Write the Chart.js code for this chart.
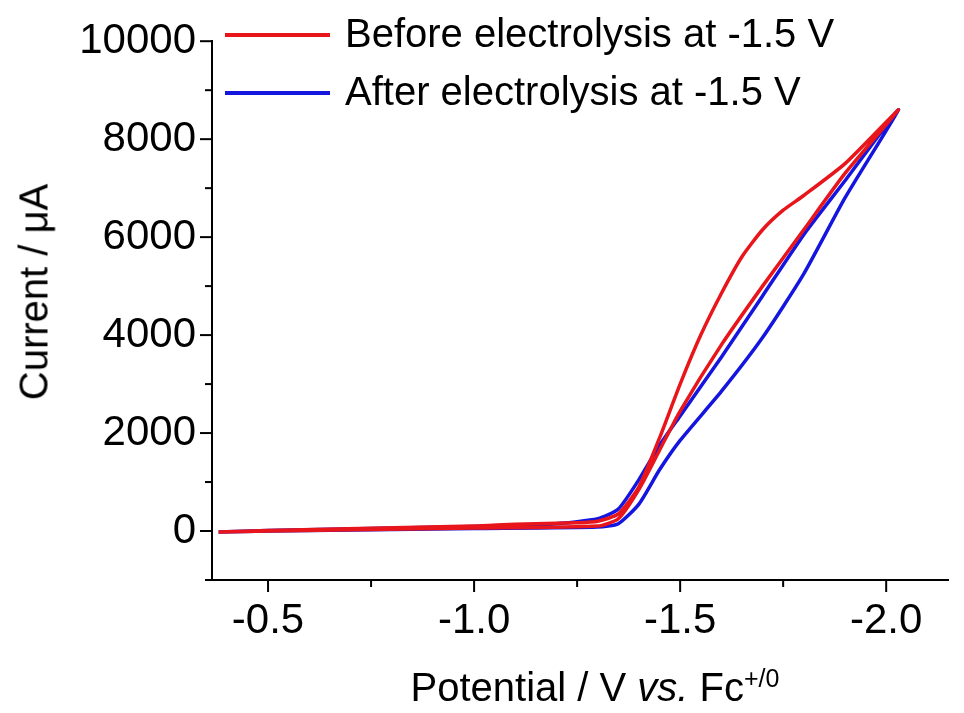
<!DOCTYPE html>
<html>
<head>
<meta charset="utf-8">
<script src="https://cdn.jsdelivr.net/npm/chart.js@4"></script>
<style>
  body { margin: 0; background: #fff; font-family: "Liberation Sans", Arial, sans-serif; }
  #wrap { position: relative; width: 964px; height: 713px; }
  .lbl { position: absolute; color: #000; white-space: nowrap; }
  .key { position: absolute; height: 4px; width: 105px; }
</style>
</head>
<body>
<div id="wrap">
  <canvas id="cv" width="964" height="713"></canvas>
  <div class="key" style="left:225px; top:33px; background:#e8161b"></div>
  <div class="lbl" style="left:345px; top:11px; font-size:40px">Before electrolysis at -1.5 V</div>
  <div class="key" style="left:225px; top:91px; background:#1515e0"></div>
  <div class="lbl" style="left:345px; top:69px; font-size:40px">After electrolysis at -1.5 V</div>
  <div class="lbl" style="left:34px; top:292px; font-size:40px; transform:translate(-50%,-50%) rotate(-90deg)">Current / &mu;A</div>
  <div class="lbl" style="left:595px; top:664px; font-size:40px; transform:translateX(-50%)">Potential / V <i>vs.</i> Fc<sup style="font-size:25px">+/0</sup></div>
</div>
<script>
// CV loops: potential (V) and current (uA)
const beforeV = [-0.38, -0.5, -1.0, -1.1, -1.25, -1.3, -1.35, -1.4, -1.45, -1.5, -1.55, -1.6, -1.65, -1.7, -1.75, -1.8, -1.9, -2.03,
                 -1.9, -1.8, -1.7, -1.6, -1.5, -1.45, -1.4, -1.35, -1.3, -1.0, -0.5, -0.38];
const beforeI = [-20, 10, 100, 140, 170, 200, 350, 900, 1900, 3000, 4000, 4850, 5600, 6150, 6550, 6850, 7500, 8600,
                 7300, 6150, 5000, 3800, 2450, 1650, 850, 250, 100, 60, 0, -20];
const afterV = [-0.38, -0.5, -1.0, -1.2, -1.3, -1.35, -1.4, -1.45, -1.5, -1.6, -1.7, -1.8, -1.9, -2.03,
                -1.9, -1.8, -1.7, -1.6, -1.5, -1.45, -1.4, -1.35, -1.3, -1.0, -0.5, -0.38];
const afterI = [-20, 10, 90, 150, 250, 450, 1050, 1750, 2350, 3550, 4800, 6050, 7150, 8600,
                6800, 5250, 3950, 2850, 1850, 1250, 550, 150, 80, 50, 0, -20];
const xTicks = [-0.5, -1.0, -1.5, -2.0];
const yTicks = [0, 2000, 4000, 6000, 8000, 10000];

const pts = (xs, ys) => xs.map((x, i) => ({ x: x, y: ys[i] }));

const minorTicks = {
  id: 'minorTicks',
  afterDraw(chart) {
    const c = chart.ctx, xs = chart.scales.x, ys = chart.scales.y;
    c.save();
    c.strokeStyle = '#000';
    c.lineWidth = 2;
    for (let v = -0.25; v >= -2.25; v -= 0.25) {
      const major = xTicks.some(t => Math.abs(t - v) < 1e-6);
      const px = xs.getPixelForValue(v);
      if (px < xs.left - 1 || px > xs.right + 1) continue;
      c.beginPath(); c.moveTo(px, xs.top); c.lineTo(px, xs.top + (major ? 12 : 7)); c.stroke();
    }
    for (let v = -1000; v <= 10000; v += 1000) {
      const major = yTicks.includes(v);
      const py = ys.getPixelForValue(v);
      c.beginPath(); c.moveTo(ys.right, py); c.lineTo(ys.right - (major ? 12 : 7), py); c.stroke();
    }
    c.restore();
  }
};

new Chart(document.getElementById('cv'), {
  type: 'scatter',
  data: {
    datasets: [
      { label: 'Before electrolysis at -1.5 V', data: pts(beforeV, beforeI), showLine: true, borderColor: '#e8161b', borderWidth: 3.5, pointRadius: 0, tension: 0.2 },
      { label: 'After electrolysis at -1.5 V', data: pts(afterV, afterI), showLine: true, borderColor: '#1515e0', borderWidth: 3.5, pointRadius: 0, tension: 0.2 }
    ]
  },
  options: {
    responsive: false,
    animation: false,
    layout: { padding: { top: 40, right: 16 } },
    plugins: { legend: { display: false }, tooltip: { enabled: false } },
    scales: {
      x: {
        type: 'linear', reverse: true, min: -2.15, max: -0.364,
        afterFit: s => { s.height = 133; },
        afterBuildTicks: s => { s.ticks = xTicks.map(v => ({ value: v })); },
        grid: { display: false, drawTicks: false },
        border: { color: '#000', width: 2 },
        ticks: { color: '#000', font: { size: 42, family: 'Liberation Sans' }, padding: 16, callback: v => v.toFixed(1) }
      },
      y: {
        type: 'linear', min: -1000, max: 10000,
        afterFit: s => { s.width = 212; },
        afterBuildTicks: s => { s.ticks = yTicks.map(v => ({ value: v })); },
        grid: { display: false, drawTicks: false },
        border: { color: '#000', width: 2 },
        ticks: { color: '#000', font: { size: 42, family: 'Liberation Sans' }, padding: 16, callback: v => String(v) }
      }
    }
  },
  plugins: [minorTicks]
});
</script>
</body>
</html>
